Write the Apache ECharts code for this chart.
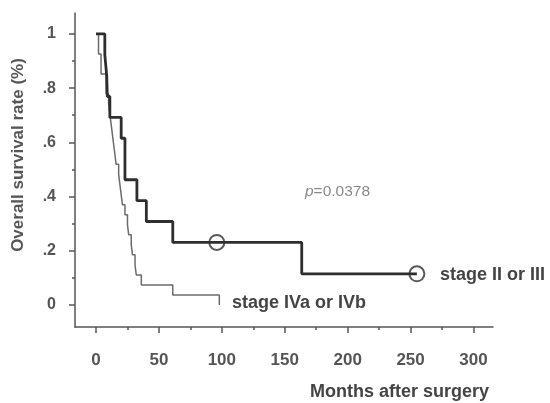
<!DOCTYPE html>
<html>
<head>
<meta charset="utf-8">
<script src="https://cdn.jsdelivr.net/npm/echarts@6/dist/echarts.min.js"></script>
<style>
  html, body { margin: 0; padding: 0; background: #fff; }
  #main { width: 550px; height: 403px; }
</style>
</head>
<body>
<div id="main"></div>
<script>
// stage II or III (thick line)
var earlyTimes = [0, 7, 8.5, 9, 11, 20, 23, 32.5, 40, 61, 163.5, 255];
var earlySurv = [1, 0.923, 0.846, 0.769, 0.692, 0.615, 0.462, 0.385, 0.308, 0.231, 0.115, 0.115];
var earlyCensorTimes = [96, 255];
var earlyCensorSurv = [0.231, 0.115];

// stage IVa or IVb (thin line)
var lateTimes = [0, 2, 4, 8, 10, 11, 12, 13, 14, 15, 16, 18, 19, 20, 21, 23, 25, 26, 28, 29, 31, 32, 36, 61, 98];
var lateSurv = [1, 0.926, 0.852, 0.778, 0.741, 0.704, 0.667, 0.63, 0.593, 0.556, 0.519, 0.481, 0.444, 0.407, 0.37, 0.333, 0.296, 0.259, 0.222, 0.185, 0.148, 0.111, 0.074, 0.037, 0];

var xTicks = [0, 50, 100, 150, 200, 250, 300];
var xTickLabels = ["0", "50", "100", "150", "200", "250", "300"];
var xMinorTicks = [25, 75, 125, 175, 225, 275];
var yTicks = [0, 0.2, 0.4, 0.6, 0.8, 1];
var yTickLabels = ["0", ".2", ".4", ".6", ".8", "1"];
var yMinorTicks = [0.1, 0.3, 0.5, 0.7, 0.9];

var font = "'Liberation Sans', Arial, sans-serif";
var axisColor = "#555";

function stepData(t, s) {
  var out = [[t[0], s[0]]];
  for (var i = 1; i < t.length; i++) {
    out.push([t[i], s[i - 1]]);
    out.push([t[i], s[i]]);
  }
  return out;
}

function pick(ticks, labels) {
  return function (v) {
    for (var i = 0; i < ticks.length; i++) {
      if (Math.abs(ticks[i] - v) < 1e-6) return labels[i];
    }
    return "";
  };
}

var chartDom = document.getElementById("main");
var myChart = echarts.init(chartDom);
var gridBox = { left: 75, right: 57, top: 13, bottom: 76 };

var option = {
  animation: false,
  grid: [
    Object.assign({}, gridBox),
    Object.assign({}, gridBox)
  ],
  xAxis: [
    {
      type: "value", gridIndex: 0, min: -16.7, max: 315.5, position: "bottom",
      axisLine: { show: true, onZero: false, lineStyle: { color: axisColor, width: 1.5 } },
      axisTick: { show: true, length: 6, customValues: xTicks, lineStyle: { color: axisColor, width: 1.5 } },
      axisLabel: {
        customValues: xTicks, formatter: pick(xTicks, xTickLabels), margin: 25,
        color: axisColor, fontSize: 17, fontWeight: "bold", fontFamily: font
      },
      splitLine: { show: false }
    },
    {
      type: "value", gridIndex: 1, min: -16.7, max: 315.5, position: "bottom",
      axisLine: { show: false, onZero: false },
      axisTick: { show: true, length: 3, customValues: xMinorTicks, lineStyle: { color: axisColor, width: 1.5 } },
      axisLabel: { show: false },
      splitLine: { show: false }
    }
  ],
  yAxis: [
    {
      type: "value", gridIndex: 0, min: -0.081, max: 1.077, position: "left",
      axisLine: { show: true, onZero: false, lineStyle: { color: axisColor, width: 1.5 } },
      axisTick: { show: true, length: 6, customValues: yTicks, lineStyle: { color: axisColor, width: 1.5 } },
      axisLabel: {
        customValues: yTicks, formatter: pick(yTicks, yTickLabels), margin: 19,
        color: axisColor, fontSize: 16, fontWeight: "bold", fontFamily: font
      },
      splitLine: { show: false }
    },
    {
      type: "value", gridIndex: 1, min: -0.081, max: 1.077, position: "left",
      axisLine: { show: false, onZero: false },
      axisTick: { show: true, length: 3, customValues: yMinorTicks, lineStyle: { color: axisColor, width: 1.5 } },
      axisLabel: { show: false },
      splitLine: { show: false }
    }
  ],
  series: [
    {
      name: "stage IVa or IVb", type: "line", xAxisIndex: 0, yAxisIndex: 0,
      data: stepData(lateTimes, lateSurv), symbol: "none",
      lineStyle: { color: "#6b6b6b", width: 1.5 }
    },
    {
      name: "stage II or III", type: "line", xAxisIndex: 0, yAxisIndex: 0,
      data: stepData(earlyTimes, earlySurv), symbol: "none",
      lineStyle: { color: "#2e2e2e", width: 2.8 }
    },
    {
      name: "censored", type: "scatter", xAxisIndex: 0, yAxisIndex: 0,
      data: earlyCensorTimes.map(function (t, i) { return [t, earlyCensorSurv[i]]; }),
      symbol: "circle", symbolSize: 15,
      itemStyle: { color: "rgba(0,0,0,0)", borderColor: "#2e2e2e", borderWidth: 2 }
    }
  ],
  graphic: [
    {
      type: "text", x: 18, y: 155, rotation: Math.PI / 2,
      style: {
        text: "Overall survival rate (%)", align: "center", verticalAlign: "middle",
        fill: "#555", fontSize: 17, fontWeight: "bold", fontFamily: font
      }
    },
    {
      type: "text", x: 305, y: 192,
      style: {
        text: "{i|p}=0.0378", verticalAlign: "middle", fill: "#888", fontSize: 15.5, fontFamily: font,
        rich: { i: { fontStyle: "italic", fill: "#888", fontSize: 15.5, fontFamily: font } }
      }
    },
    {
      type: "text", x: 440, y: 275,
      style: { text: "stage II or III", verticalAlign: "middle", fill: "#444", fontSize: 18, fontWeight: "bold", fontFamily: font }
    },
    {
      type: "text", x: 232, y: 303,
      style: { text: "stage IVa or IVb", verticalAlign: "middle", fill: "#444", fontSize: 18, fontWeight: "bold", fontFamily: font }
    },
    {
      type: "text", x: 310, y: 392,
      style: { text: "Months after surgery", verticalAlign: "middle", fill: "#444", fontSize: 18, fontWeight: "bold", fontFamily: font }
    }
  ]
};

option && myChart.setOption(option);
window.addEventListener("resize", function () {
  myChart.resize();
});
</script>
</body>
</html>
